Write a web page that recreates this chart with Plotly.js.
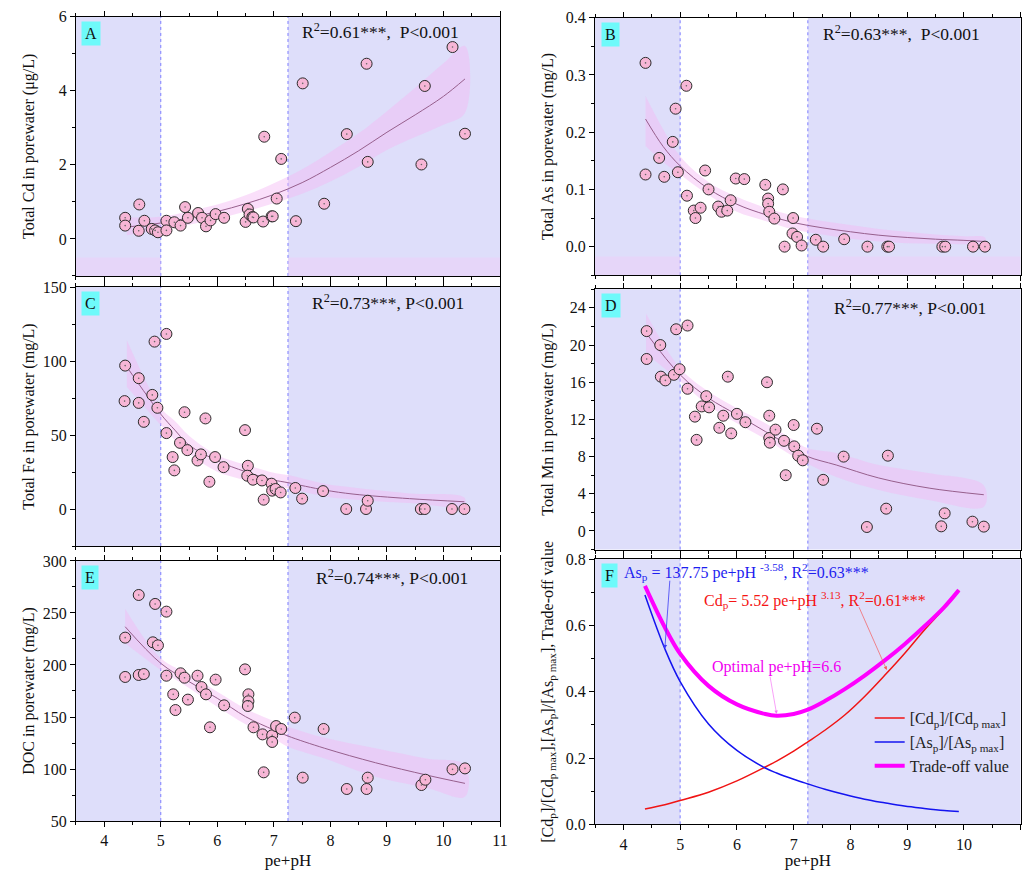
<!DOCTYPE html>
<html><head><meta charset="utf-8">
<script src="https://cdn.plot.ly/plotly-3.0.1.min.js"></script>
<style>body{margin:0;background:#fff}#chart{width:1028px;height:870px}</style>
</head><body><div id="chart"></div>
<script>
// ---- Panel A: Total Cd ----
const xA = [4.37,4.37,4.62,4.61,4.71,4.84,4.90,4.95,5.10,5.10,5.24,5.35,5.43,5.48,5.66,5.73,5.80,5.88,5.97,6.12,6.50,6.54,6.57,6.62,6.64,6.81,6.83,6.96,6.98,7.05,7.13,7.39,7.51,7.89,8.29,8.64,8.66,9.61,9.67,10.16,10.38];
const yA = [0.57,0.36,0.93,0.22,0.49,0.27,0.23,0.18,0.49,0.23,0.45,0.36,0.86,0.57,0.70,0.57,0.34,0.50,0.67,0.57,0.46,0.81,0.66,0.59,0.58,0.47,2.76,0.61,0.61,1.09,2.16,0.48,4.20,0.95,2.83,4.73,2.08,2.01,4.13,5.18,2.84];
const fitXA = [4.4,5.0,5.5,6.0,6.5,7.0,7.5,8.0,8.5,9.0,9.5,10.0,10.38];
const fitA = [0.32,0.43,0.57,0.74,0.95,1.20,1.52,1.93,2.38,2.88,3.35,3.85,4.32];
const lowA = [0.10,0.25,0.38,0.55,0.74,0.96,1.22,1.55,1.95,2.40,2.75,3.08,3.40];
const upA  = [0.58,0.60,0.75,0.93,1.18,1.50,1.88,2.35,2.85,3.45,4.08,4.74,5.21];

// ---- Panel B: Total As ----
const xB = [4.39,4.39,4.63,4.72,4.87,4.92,4.96,5.11,5.12,5.24,5.27,5.36,5.44,5.50,5.67,5.73,5.83,5.89,5.98,6.13,6.50,6.55,6.55,6.57,6.66,6.81,6.84,6.99,6.98,7.06,7.14,7.39,7.52,7.89,8.30,8.65,8.68,9.62,9.67,10.16,10.37];
const yB = [0.321,0.126,0.155,0.122,0.183,0.241,0.130,0.281,0.089,0.063,0.050,0.068,0.133,0.100,0.070,0.061,0.063,0.081,0.119,0.118,0.108,0.084,0.075,0.061,0.049,0.100,0.000,0.050,0.023,0.017,0.002,0.012,0.000,0.013,0.000,0.000,0.000,0.000,0.000,0.000,0.000];
const fitXB = [4.39,4.7,5.0,5.5,6.0,6.5,7.0,7.5,8.0,8.5,9.0,9.5,10.0,10.37];
const fitB = [0.223,0.175,0.141,0.101,0.074,0.056,0.042,0.033,0.026,0.020,0.016,0.013,0.011,0.009];
const lowB = [0.176,0.148,0.126,0.090,0.061,0.045,0.030,0.021,0.014,0.009,0.006,0.005,0.004,0.004];
const upB  = [0.263,0.205,0.158,0.113,0.087,0.068,0.054,0.045,0.038,0.031,0.026,0.021,0.018,0.016];

// ---- Panel C: Total Fe ----
const xC = [4.37,4.36,4.61,4.61,4.70,4.85,4.89,4.94,5.10,5.10,5.21,5.24,5.34,5.42,5.47,5.65,5.71,5.79,5.86,5.96,6.11,6.49,6.54,6.53,6.63,6.79,6.82,6.96,6.97,7.03,7.12,7.38,7.50,7.87,8.28,8.63,8.66,9.60,9.67,10.15,10.37];
const yC = [96.9,72.9,88.4,71.7,58.9,77.1,113.1,68.4,118.3,51.3,35.1,26.1,44.7,65.4,39.8,32.8,36.9,61.2,18.4,35.1,28.3,53.3,29.2,22.5,19.8,19.3,6.3,17.1,12.4,13.5,11.2,14.2,7.0,12.1,0,0,5.6,0,0,0,0];
const fitXC = [4.4,5.0,5.25,5.5,6.0,6.5,7.0,7.25,7.9,8.4,9.4,10.37];
const fitC = [96.0,64.1,53.3,43.2,32.6,25.2,19.6,17.8,12.8,10.1,7.0,4.9];
const lowC = [82.5,56.7,46.5,37.5,25.2,19.5,15.0,14.0,8.5,6.5,4.0,2.1];
const upC  = [114,68.5,59.5,49.5,36.4,30.0,24.5,22.9,17.0,14.5,10.5,7.7];

// ---- Panel D: Total Mn ----
const xD = [4.41,4.41,4.65,4.66,4.74,4.89,4.93,4.99,5.13,5.13,5.26,5.29,5.38,5.46,5.51,5.69,5.76,5.84,5.90,6.00,6.15,6.53,6.57,6.57,6.58,6.68,6.83,6.86,7.00,7.01,7.08,7.16,7.41,7.52,7.88,8.29,8.63,8.66,9.60,9.66,10.15,10.35];
const yD = [21.5,18.5,20.0,16.6,16.2,16.8,21.7,17.4,22.1,15.3,12.3,9.8,13.4,14.5,13.3,11.1,12.4,16.6,10.5,12.6,11.7,16.0,12.4,10.0,9.5,10.9,9.7,6.0,11.4,9.1,8.1,7.6,11.0,5.5,8.0,0.43,2.4,8.1,0.5,1.9,1.0,0.47];
const fitXD = [4.4,5.0,5.5,6.0,6.5,7.0,7.25,7.75,8.5,9.4,10.35];
const fitD = [21.3,16.8,14.3,12.5,10.7,8.9,8.0,7.1,5.7,4.6,3.9];
const lowD = [19.1,16.1,13.5,11.6,9.9,8.0,7.2,5.8,4.4,3.3,2.6];
const upD  = [23.4,17.5,15.0,13.2,11.6,9.8,8.9,8.4,7.1,6.2,4.9];

// ---- Panel E: DOC ----
const xE = [4.37,4.37,4.61,4.61,4.70,4.86,4.90,4.95,5.10,5.10,5.22,5.26,5.35,5.42,5.48,5.65,5.72,5.80,5.87,5.97,6.12,6.49,6.55,6.55,6.54,6.64,6.80,6.82,6.97,6.97,7.04,7.13,7.37,7.51,7.88,8.29,8.64,8.66,9.61,9.68,10.16,10.38];
const yE = [226.3,188.5,267.3,190.4,191.3,221.8,258.7,218.9,251.3,189.7,171.8,156.7,192.0,187.8,166.7,189.7,178.8,171.8,140.1,185.9,161.2,195.8,171.8,165.1,160.6,140.1,133.3,96.8,132.4,126.0,141.3,138.5,149.4,91.7,138.5,80.8,80.8,91.7,84.6,89.7,99.7,100.6];
const fitXE = [4.37,5.0,5.5,6.0,6.5,7.0,7.25,7.9,8.8,9.7,10.38];
const fitE = [236.8,201.6,184,168,150.3,137.5,131.7,119.9,106,94.2,86.2];
const lowE = [220.9,195.2,178,159.9,143,129,121.4,110,92.6,82,73.4];
const upE  = [254,206.4,191,174.3,158,146,140.7,130,119.9,110,103.8];

// ---- Panel F: normalised curves ----
const xF = [4.38,4.73,5.0,5.5,6.0,6.5,6.7,7.0,7.25,7.55,7.9,8.25,8.6,8.95,9.3,9.65,9.91];
const cdNorm = [0.046,0.059,0.072,0.097,0.131,0.173,0.191,0.221,0.249,0.284,0.330,0.386,0.449,0.515,0.586,0.652,0.707];
const asNorm = [0.692,0.530,0.431,0.303,0.223,0.170,0.155,0.136,0.122,0.106,0.090,0.076,0.065,0.055,0.048,0.042,0.039];
const tradeOff = [0.720,0.595,0.515,0.418,0.362,0.333,0.328,0.333,0.346,0.372,0.408,0.449,0.494,0.543,0.597,0.655,0.707];

const panelLetters = ['A','B','C','D','E','F'];
const yTitles = ['Total Cd in porewater (μg/L)','Total As in porewater (mg/L)','Total Fe in porewater (mg/L)','Total Mn in porewater (mg/L)','DOC in porewater (mg/L)','[Cd<sub>p</sub>]/[Cd<sub>p max</sub>],[As<sub>p</sub>]/[As<sub>p max</sub>], Trade-off value'];
const statTexts = ['R<sup>2</sup>=0.61***,  P<0.001','R<sup>2</sup>=0.63***,  P<0.001','R<sup>2</sup>=0.73***, P<0.001','R<sup>2</sup>=0.77***, P<0.001','R<sup>2</sup>=0.74***, P<0.001'];
const legendNames = ['[Cd<sub>p</sub>]/[Cd<sub>p max</sub>]','[As<sub>p</sub>]/[As<sub>p max</sub>]','Trade-off value'];

const FONT = "'Liberation Serif', 'Times New Roman', serif";
const LAV = 'rgb(222,222,250)';
const BAND = 'rgba(245,185,245,0.45)';
const FITC = 'rgb(150,95,140)';
const MK = 'rgb(247,182,214)';

const scatterPanels = [
  {x:xA,y:yA,fx:fitXA,f:fitA,lo:lowA,up:upA},
  {x:xB,y:yB,fx:fitXB,f:fitB,lo:lowB,up:upB},
  {x:xC,y:yC,fx:fitXC,f:fitC,lo:lowC,up:upC},
  {x:xD,y:yD,fx:fitXD,f:fitD,lo:lowD,up:upD},
  {x:xE,y:yE,fx:fitXE,f:fitE,lo:lowE,up:upE}
];

const xDom = [[0.0739,0.4864],[0.5788,0.9929]];
const yDoms = [[0.6828,0.9808],[0.6836,0.9797],[0.3724,0.6701],[0.3683,0.6675],[0.0563,0.3552],[0.0525,0.3571]];
const yRanges = [[-1,6],[-0.05,0.4],[-25,150],[-2,26],[50,300],[0,0.8]];
const yDt = [2,0.1,50,4,50,0.2];
const yFmt = ['','.1f','','','','.1f'];
const statPos = [[0.717,0.945],[0.719,0.94],[0.735,0.942],[0.739,0.93],[0.745,0.94]];

const traces = [];
scatterPanels.forEach((p,i)=>{
  const s = i===0 ? '' : String(i+1);
  const xa = 'x'+s, ya = 'y'+s;
  traces.push({x:p.fx.concat(p.fx.slice().reverse()), y:p.up.concat(p.lo.slice().reverse()),
    type:'scatter', mode:'lines', fill:'toself', fillcolor:BAND, line:{width:0, shape:'spline'},
    xaxis:xa, yaxis:ya, showlegend:false, hoverinfo:'skip'});
  traces.push({x:p.fx, y:p.f, type:'scatter', mode:'lines', line:{color:FITC,width:1,shape:'spline'},
    xaxis:xa, yaxis:ya, showlegend:false});
  traces.push({x:p.x, y:p.y, type:'scatter', mode:'markers',
    marker:{size:11, color:MK, line:{color:'#2a2a2a',width:1}}, xaxis:xa, yaxis:ya, showlegend:false});
  traces.push({x:p.x, y:p.y, type:'scatter', mode:'markers',
    marker:{size:1.6, color:'#666'}, xaxis:xa, yaxis:ya, showlegend:false, hoverinfo:'skip'});
});
traces.push({x:xF, y:cdNorm, name:legendNames[0], type:'scatter', mode:'lines', line:{color:'rgb(240,20,20)',width:1.5,shape:'spline'}, xaxis:'x6', yaxis:'y6'});
traces.push({x:xF, y:asNorm, name:legendNames[1], type:'scatter', mode:'lines', line:{color:'rgb(20,20,240)',width:1.5,shape:'spline'}, xaxis:'x6', yaxis:'y6'});
traces.push({x:xF, y:tradeOff, name:legendNames[2], type:'scatter', mode:'lines', line:{color:'rgb(255,0,255)',width:4,shape:'spline'}, xaxis:'x6', yaxis:'y6'});

const layout = {
  width:1028, height:870, margin:{l:0,r:0,t:0,b:0},
  paper_bgcolor:'#fff', plot_bgcolor:'#fff',
  font:{family:FONT, size:16, color:'#111'},
  showlegend:true,
  legend:{x:0.846, y:0.194, xanchor:'left', yanchor:'top', bgcolor:'rgba(0,0,0,0)', font:{family:FONT,size:16,color:'#222'}, tracegroupgap:0},
  shapes:[], annotations:[]
};

for (let i=0;i<6;i++){
  const s = i===0 ? '' : String(i+1);
  const col = i%2;
  const bottom = (i>=4);
  layout['xaxis'+s] = {domain:xDom[col], range:[3.5,11], anchor:'y'+s, dtick:1, tick0:4,
    ticks:'outside', ticklen:5, tickcolor:'#000', showline:true, linecolor:'#000', linewidth:1, mirror:'ticks',
    showgrid:false, zeroline:false, showticklabels:bottom,
    tickfont:{family:FONT,size:16,color:'#111'},
    minor:{dtick:0.5, ticks:'outside', ticklen:3, tickcolor:'#000'},
    title: bottom ? {text:'pe+pH', font:{family:FONT,size:17,color:'#111'}, standoff:8} : {text:''}};
  layout['yaxis'+s] = {domain:yDoms[i], range:yRanges[i], anchor:'x'+s, dtick:yDt[i],
    tickformat:yFmt[i], ticks:'outside', ticklen:5, tickcolor:'#000', showline:true, linecolor:'#000', linewidth:1,
    mirror:true, showgrid:false, zeroline:false, tickfont:{family:FONT,size:16,color:'#111'},
    minor:{dtick:yDt[i]/2, ticks:'outside', ticklen:3, tickcolor:'#000'},
    title:{text:yTitles[i], font:{family:FONT,size:16,color:'#111'}}};
  const xa='x'+s, yd='y'+s+' domain';
  layout.shapes.push({type:'rect', xref:xa, yref:yd, x0:3.5, x1:5, y0:0, y1:1, fillcolor:LAV, line:{width:0}, layer:'below'});
  layout.shapes.push({type:'rect', xref:xa, yref:yd, x0:7.25, x1:11, y0:0, y1:1, fillcolor:LAV, line:{width:0}, layer:'below'});
  layout.shapes.push({type:'line', xref:xa, yref:yd, x0:5, x1:5, y0:0, y1:1, line:{color:'rgb(125,125,255)',width:1,dash:'dot'}, layer:'below'});
  layout.shapes.push({type:'line', xref:xa, yref:yd, x0:7.25, x1:7.25, y0:0, y1:1, line:{color:'rgb(125,125,255)',width:1,dash:'dot'}, layer:'below'});
  layout.annotations.push({xref:'x'+s+' domain', yref:yd, x:0.013, y:0.985, xanchor:'left', yanchor:'top',
    text:panelLetters[i], showarrow:false, bgcolor:'rgb(110,250,250)', borderpad:3,
    font:{family:FONT,size:16,color:'#111'}});
  if (i<5){
    layout.annotations.push({xref:'x'+s+' domain', yref:yd, x:statPos[i][0], y:statPos[i][1], xanchor:'center', yanchor:'middle',
      text:statTexts[i], showarrow:false, font:{family:FONT,size:17.5,color:'#111'}});
  }
}
// faint pink strip at the bottom of A and B
[[ '', -1, -0.5 ], ['2', -0.05, -0.017]].forEach(([s,a,b])=>{
  [[3.5,5],[7.25,11]].forEach(([x0,x1])=>{
    layout.shapes.push({type:'rect', xref:'x'+s, yref:'y'+s, x0:x0, x1:x1, y0:a, y1:b, fillcolor:'rgba(245,200,245,0.35)', line:{width:0}, layer:'below'});
  });
});

// Panel F texts and arrows
layout.annotations.push({xref:'x6', yref:'y6', x:3.97, y:0.761, xanchor:'left', yanchor:'middle', showarrow:false,
  text:'As<sub>p</sub> = 137.75 pe+pH <sup>-3.58</sup>, R<sup>2</sup>=0.63***', font:{family:FONT,size:16,color:'rgb(30,30,240)'}});
layout.annotations.push({xref:'x6', yref:'y6', x:7.37, y:0.677, xanchor:'center', yanchor:'middle', showarrow:false,
  text:'Cd<sub>p</sub>= 5.52 pe+pH <sup>3.13</sup>, R<sup>2</sup>=0.61***', font:{family:FONT,size:16,color:'rgb(245,20,20)'}});
layout.annotations.push({xref:'x6', yref:'y6', x:6.69, y:0.474, xanchor:'center', yanchor:'middle', showarrow:false,
  text:'Optimal pe+pH=6.6', font:{family:FONT,size:16,color:'rgb(240,0,240)'}});
layout.annotations.push({xref:'x6', yref:'y6', axref:'x6', ayref:'y6', x:4.73, y:0.53, ax:4.82, ay:0.74, text:'',
  showarrow:true, arrowhead:2, arrowsize:1, arrowwidth:0.8, arrowcolor:'rgb(60,60,245)'});
layout.annotations.push({xref:'x6', yref:'y6', axref:'x6', ayref:'y6', x:8.64, y:0.466, ax:8.14, ay:0.66, text:'',
  showarrow:true, arrowhead:2, arrowsize:1, arrowwidth:0.7, arrowcolor:'rgb(245,90,90)'});
layout.annotations.push({xref:'x6', yref:'y6', axref:'x6', ayref:'y6', x:6.70, y:0.333, ax:6.58, ay:0.45, text:'',
  showarrow:true, arrowhead:2, arrowsize:1, arrowwidth:0.7, arrowcolor:'rgb(245,120,245)'});

Plotly.newPlot('chart', traces, layout, {displayModeBar:false, staticPlot:true});
</script></body></html>
